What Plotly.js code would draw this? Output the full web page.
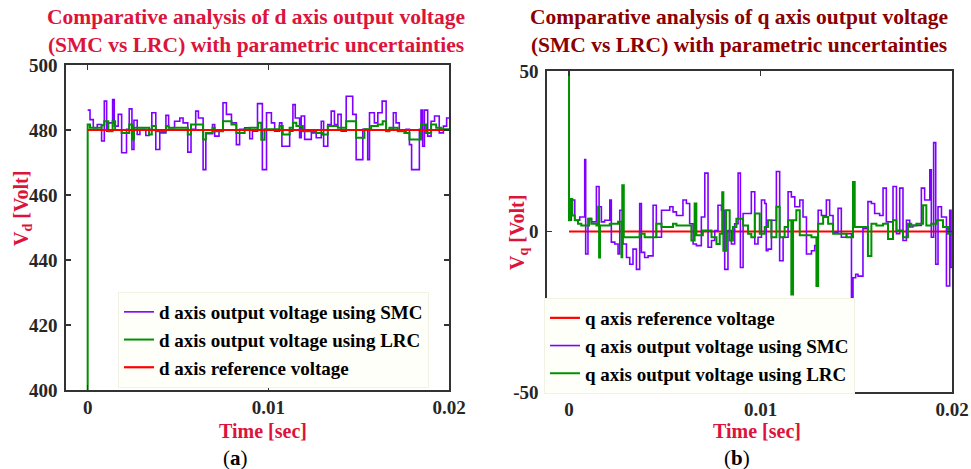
<!DOCTYPE html>
<html><head><meta charset="utf-8">
<script src="https://cdn.plot.ly/plotly-3.0.1.min.js"></script>
<style>html,body{margin:0;padding:0;background:#fff}#chart{width:971px;height:469px}</style>
</head><body><div id="chart"></div>
<script>
// ---- tick labels ----
const xTickVals = [0, 0.01, 0.02];
const xTickText = ['0', '0.01', '0.02'];
const yTickValsD = [400, 420, 440, 460, 480, 500];
const yTickTextD = ['400', '420', '440', '460', '480', '500'];
const yTickValsQ = [-50, 0, 50];
const yTickTextQ = ['-50', '0', '50'];

// ---- panel (a): d axis, time in ms ----
const smcD_t = [0,0.13,0.31,0.53,0.77,0.92,1.05,1.14,1.38,1.47,1.69,1.88,2.15,2.30,2.45,2.56,2.74,2.89,3.22,3.40,3.55,3.77,3.99,4.33,4.48,4.81,5.10,5.28,5.54,5.72,5.98,6.13,6.39,6.54,6.91,7.03,7.27,7.49,7.68,7.96,8.23,8.41,8.69,8.97,9.12,9.40,9.67,9.90,10.17,10.35,10.62,10.75,11.18,11.36,11.49,11.73,11.82,12.01,12.38,12.65,12.93,13.06,13.29,13.48,13.66,13.85,14.03,14.31,14.67,14.86,15.23,15.50,15.60,15.87,16.06,16.30,16.52,16.70,16.92,17.07,17.25,17.62,17.81,17.93,18.36,18.45,18.54,18.64,18.82,19.01,19.20,19.46,19.69,19.87,20.0];
const smcD_v = [486.1,483.2,480.7,481.7,476.6,488.9,479.6,482.2,489.4,481.2,484.8,473.0,480.2,486.5,474.0,483.0,478.6,480.2,478.3,480.2,485.3,474.0,479.1,484.5,480.7,482.7,483.7,482.2,473.2,480.2,485.8,483.7,467.8,478.9,481.7,478.1,480.0,488.4,484.8,482.2,475.5,480.2,480.7,477.3,479.6,488.1,467.8,485.3,482.2,479.6,482.2,475.0,479.6,487.8,483.7,477.6,484.3,477.1,479.1,477.6,482.7,475.0,481.7,485.8,481.7,484.8,479.6,490.4,484.8,470.9,480.2,470.9,485.3,482.2,485.3,488.9,479.6,480.2,485.3,482.2,479.6,480.2,475.5,467.8,480.2,486.1,475.0,486.1,478.1,482.7,484.3,479.1,481.2,483.7,483.7];
const lrcD_t = [0,0,0.13,0.77,0.92,1.14,1.38,1.52,1.88,2.30,2.45,2.56,3.40,3.55,3.77,4.33,4.48,5.54,5.72,6.39,6.54,6.91,7.03,7.49,7.96,8.23,8.69,8.97,9.43,9.61,9.79,10.62,10.80,11.18,11.36,11.55,11.91,12.65,13.02,13.29,13.85,14.31,14.86,15.32,15.69,16.06,16.33,16.52,16.70,17.16,17.53,17.81,18.45,18.73,19.01,19.29,19.57,20.0];
const lrcD_v = [400,481.7,480.7,481.5,482.7,479.6,482.7,480.0,479.1,481.7,477.1,480.7,478.6,481.2,479.6,481.2,480.7,478.6,481.7,477.1,479.1,480.7,479.6,482.7,481.7,479.1,480.2,480.7,482.2,477.0,480.2,481.2,478.6,480.7,482.2,481.2,479.6,479.1,478.6,481.2,480.7,482.7,477.6,480.2,481.2,481.7,482.7,479.6,480.7,479.6,479.1,477.1,481.7,479.1,481.7,480.7,480.2,480.2];
const refD_t = [0, 20];
const refD_v = [480, 480];

// ---- panel (b): q axis, time in ms ----
const smcQ_t = [0,0.12,0.30,0.56,0.82,0.87,0.99,1.17,1.43,1.57,1.69,1.86,2.13,2.21,2.39,2.56,2.65,2.82,3.00,3.17,3.34,3.52,3.69,3.78,3.95,4.13,4.39,4.56,4.83,5.26,5.43,5.61,5.95,6.13,6.30,6.48,6.65,6.91,7.09,7.26,7.44,7.61,7.78,7.96,8.13,8.30,8.48,8.65,8.83,8.95,9.09,9.52,9.70,9.87,10.05,10.22,10.30,10.39,10.57,10.83,11.00,11.18,11.44,11.61,11.79,12.05,12.22,12.40,12.66,12.83,13.01,13.18,13.44,13.61,13.79,14.05,14.22,14.49,14.75,14.83,14.97,15.09,15.35,15.61,15.79,15.96,16.22,16.40,16.57,16.92,17.10,17.27,17.44,17.62,17.79,17.96,18.40,18.57,18.84,18.92,19.04,19.15,19.27,19.45,19.71,19.88,19.95,20.0];
const smcQ_v = [3.5,9.8,3.5,4.5,22.4,-7.0,4.0,3.0,14.0,7.7,3.0,3.5,9.8,-3.3,-3.9,-7.0,6.6,-3.9,-8.1,-10.2,-5.5,-11.8,8.7,-6.5,-8.1,-7.6,8.2,-1.8,6.6,7.7,6.1,5.0,9.8,8.7,2.4,-3.9,-4.4,4.5,18.2,-4.9,-2.8,0.3,8.2,6.6,-11.8,0.3,-3.9,2.4,18.2,-11.2,5.6,12.4,-3.9,-1.8,9.8,8.7,-6.0,-5.5,3.5,18.7,-9.1,-1.8,12.4,10.8,7.7,9.8,4.5,-7.0,-6.0,-4.4,6.6,5.0,9.8,5.0,-0.2,7.2,-1.8,-0.7,-22.8,-14.4,-13.3,-13.9,0.9,9.3,8.7,5.6,5.0,13.5,3.0,14.0,-0.7,13.5,-2.8,3.5,1.4,1.9,13.5,9.8,19.2,-1.8,27.7,-10.2,7.7,4.5,-17.0,6.6,-11.2,-11.2];
const lrcQ_t = [0,0,0.05,0.17,0.30,0.47,0.64,1.05,1.17,1.43,1.52,1.57,1.62,2.13,2.56,2.74,2.78,2.86,3.69,3.95,4.56,4.83,5.43,5.61,6.39,6.56,6.65,6.99,7.44,7.70,7.87,8.00,8.06,8.20,8.39,8.56,8.74,9.09,9.35,9.52,9.70,9.96,10.22,10.39,10.57,10.83,11.00,11.26,11.44,11.61,11.70,11.87,12.05,12.66,12.92,13.01,13.27,13.53,13.79,14.49,14.83,14.92,15.61,15.79,16.05,16.40,16.66,16.92,17.10,17.44,17.70,17.87,18.14,18.49,18.66,18.92,19.18,19.53,19.79,20.0];
const lrcQ_v = [60,3.5,10.1,5.0,3.5,2.4,1.9,4.0,2.4,1.9,7.7,-8.1,1.9,2.4,3.0,-8.0,14.4,-1.8,-0.7,-1.8,2.4,1.4,2.4,1.9,-2.8,8.7,-1.2,0.3,-1.8,-3.9,-0.7,12.2,-6.0,6.6,-2.8,1.4,4.0,1.9,-0.7,-1.8,5.6,-0.7,1.4,3.5,-1.8,7.7,-1.8,1.4,3.5,-19.6,3.5,6.6,-1.2,-1.8,-17.0,2.4,4.5,2.4,-0.7,-1.8,15.4,1.4,-7.6,2.4,1.9,2.4,-2.3,3.5,0.3,-1.8,2.4,1.9,2.4,8.2,1.9,2.4,3.5,1.4,-0.7,-0.7];
const refQ_t = [0, 20];
const refQ_v = [0, 0];

const ms = a => a.map(v => v / 1000);

const PURPLE = '#7F00FF', GREEN = '#009000', RED = '#FF0000';
const SERIF = 'Liberation Serif, Times New Roman, serif';
const CRIMSON = '#DC143C', MAROON = '#8B0000', TICKC = '#262626';

const traces = [
  {x: ms(smcD_t), y: smcD_v, name: 'd axis output voltage using SMC', mode: 'lines', line: {color: PURPLE, width: 1.6, shape: 'hv'}, xaxis: 'x', yaxis: 'y', legend: 'legend'},
  {x: ms(lrcD_t), y: lrcD_v, name: 'd axis output voltage using LRC', mode: 'lines', line: {color: GREEN, width: 2, shape: 'hv'}, xaxis: 'x', yaxis: 'y', legend: 'legend'},
  {x: ms(refD_t), y: refD_v, name: 'd axis reference voltage', mode: 'lines', line: {color: RED, width: 2.2}, xaxis: 'x', yaxis: 'y', legend: 'legend'},
  {x: ms(refQ_t), y: refQ_v, name: 'q axis reference voltage', mode: 'lines', line: {color: RED, width: 2.2}, xaxis: 'x2', yaxis: 'y2', legend: 'legend2'},
  {x: ms(smcQ_t), y: smcQ_v, name: 'q axis output voltage using SMC', mode: 'lines', line: {color: PURPLE, width: 1.6, shape: 'hv'}, xaxis: 'x2', yaxis: 'y2', legend: 'legend2'},
  {x: ms(lrcQ_t), y: lrcQ_v, name: 'q axis output voltage using LRC', mode: 'lines', line: {color: GREEN, width: 2, shape: 'hv'}, xaxis: 'x2', yaxis: 'y2', legend: 'legend2'}
];

const W = 971, H = 469;
const px = v => v / W, py = v => 1 - v / H;

const axCommon = {
  showline: true, linecolor: '#333', linewidth: 1.6, mirror: 'ticks',
  ticks: 'inside', ticklen: 5, tickwidth: 1.4, tickcolor: '#333',
  showgrid: false, zeroline: false,
  tickfont: {family: SERIF, size: 19, color: TICKC, weight: 'bold'}
};
const titleFont = {family: SERIF, size: 20, color: CRIMSON, weight: 'bold'};

const legendCommon = {
  bgcolor: '#FFFFFA', bordercolor: '#F2F2E4', borderwidth: 1,
  font: {family: SERIF, size: 19, color: '#000', weight: 'bold'},
  xanchor: 'left', yanchor: 'top', tracegroupgap: 0, itemwidth: 30
};

const layout = {
  width: W, height: H,
  margin: {l: 0, r: 0, t: 0, b: 0},
  paper_bgcolor: '#fff', plot_bgcolor: '#fff',
  showlegend: true,
  xaxis: Object.assign({}, axCommon, {domain: [px(66), px(449)], range: [-0.0012, 0.02], tickvals: xTickVals, ticktext: xTickText, anchor: 'y', ticklabelstandoff: 0}),
  yaxis: Object.assign({}, axCommon, {domain: [py(390), py(65)], range: [400, 500], tickvals: yTickValsD, ticktext: yTickTextD, anchor: 'x', ticklabelstandoff: 3}),
  xaxis2: Object.assign({}, axCommon, {domain: [px(547), px(952)], range: [-0.00115, 0.02], tickvals: xTickVals, ticktext: xTickText, anchor: 'y2', ticklabelstandoff: 0}),
  yaxis2: Object.assign({}, axCommon, {domain: [py(392), py(71)], range: [-50, 50], tickvals: yTickValsQ, ticktext: yTickTextQ, anchor: 'x2', ticklabelstandoff: 3}),
  legend: Object.assign({}, legendCommon, {x: px(118), y: py(292)}),
  legend2: Object.assign({}, legendCommon, {x: px(544), y: py(298)}),
  annotations: [
    {xref: 'paper', yref: 'paper', x: px(256), y: py(3), xanchor: 'center', yanchor: 'top', showarrow: false,
     text: 'Comparative analysis of d axis output voltage<br>(SMC vs LRC) with parametric uncertainties',
     font: {family: SERIF, size: 21.5, color: CRIMSON, weight: 'bold'}},
    {xref: 'paper', yref: 'paper', x: px(739), y: py(3), xanchor: 'center', yanchor: 'top', showarrow: false,
     text: 'Comparative analysis of q axis output voltage<br>(SMC vs LRC) with parametric uncertainties',
     font: {family: SERIF, size: 21.5, color: MAROON, weight: 'bold'}},
    {xref: 'paper', yref: 'paper', x: px(22), y: py(209), xanchor: 'center', yanchor: 'middle', showarrow: false, textangle: -90,
     text: 'V<sub>d</sub> [Volt]', font: titleFont},
    {xref: 'paper', yref: 'paper', x: px(518), y: py(233), xanchor: 'center', yanchor: 'middle', showarrow: false, textangle: -90,
     text: 'V<sub>q</sub> [Volt]', font: titleFont},
    {xref: 'paper', yref: 'paper', x: px(263), y: py(431), xanchor: 'center', yanchor: 'middle', showarrow: false,
     text: 'Time [sec]', font: titleFont},
    {xref: 'paper', yref: 'paper', x: px(757), y: py(431), xanchor: 'center', yanchor: 'middle', showarrow: false,
     text: 'Time [sec]', font: titleFont},
    {xref: 'paper', yref: 'paper', x: px(235), y: py(458), xanchor: 'center', yanchor: 'middle', showarrow: false,
     text: '(<b>a</b>)', font: {family: SERIF, size: 21, color: '#000'}},
    {xref: 'paper', yref: 'paper', x: px(737), y: py(458), xanchor: 'center', yanchor: 'middle', showarrow: false,
     text: '(<b>b</b>)', font: {family: SERIF, size: 21, color: '#000'}}
  ]
};

Plotly.newPlot('chart', traces, layout, {staticPlot: true, displayModeBar: false});
</script>
</body></html>
